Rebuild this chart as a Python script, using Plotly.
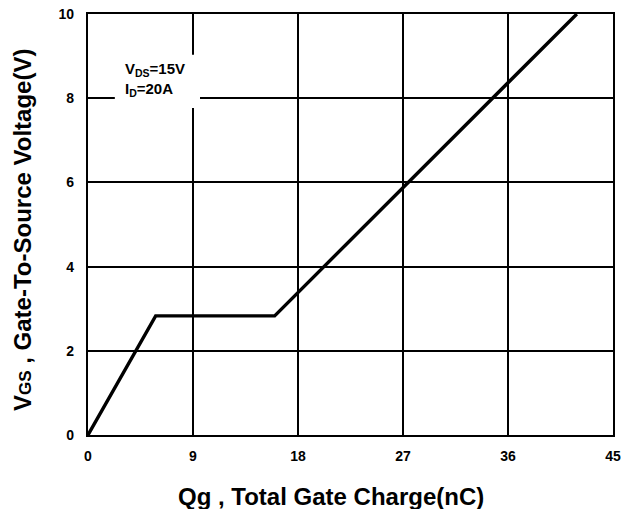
import plotly.graph_objects as go

# Data
qg_nc = [0, 5.8, 16.0, 41.9]
vgs_v = [0, 2.83, 2.83, 10.0]
x_ticks = [0, 9, 18, 27, 36, 45]
y_ticks = [0, 2, 4, 6, 8, 10]

FONT = "Liberation Sans, Arial"

fig = go.Figure()
fig.add_trace(go.Scatter(x=qg_nc, y=vgs_v, mode="lines",
                         line=dict(color="black", width=3.4), showlegend=False))

fig.add_shape(type="rect", xref="x", yref="y", x0=2.3, x1=9.6, y0=7.77, y1=9.03,
              fillcolor="white", line=dict(width=0), layer="above")
fig.add_annotation(x=3.0, y=8.44, xref="x", yref="y", xanchor="left", yanchor="middle",
                   text="V<sub>DS</sub>=15V<br>I<sub>D</sub>=20A", showarrow=False, align="left",
                   font=dict(family=FONT, size=15, color="black", weight="bold"))

# Axis titles
fig.add_annotation(x=0.463, y=-0.147, xref="paper", yref="paper", xanchor="center", yanchor="middle",
                   text="Qg , Total Gate Charge(nC)", showarrow=False,
                   font=dict(family=FONT, size=24, color="black", weight="bold"))
fig.add_annotation(x=-0.1238, y=0.487, xref="paper", yref="paper", xanchor="center", yanchor="middle",
                   textangle=-90,
                   text="V<span style='font-size:17px'>GS</span> , Gate-To-Source Voltage(V)", showarrow=False,
                   font=dict(family=FONT, size=24, color="black", weight="bold"))

axis_common = dict(showgrid=True, gridcolor="black", gridwidth=1.6, showline=True,
                   linecolor="black", linewidth=2.4, mirror=True, ticks="", zeroline=False,
                   automargin=False, ticklabeloverflow="allow",
                   tickfont=dict(family=FONT, size=14, color="black", weight="bold"))
fig.update_xaxes(range=[0, 45], tickvals=x_ticks, ticktext=[str(v) for v in x_ticks],
                 ticklabelstandoff=7, **axis_common)
fig.update_yaxes(range=[0, 10], tickvals=y_ticks, ticktext=[str(v) for v in y_ticks],
                 ticklabelstandoff=9, **axis_common)
fig.update_layout(width=622, height=509, margin=dict(l=88, r=9, t=14, b=74),
                  plot_bgcolor="white", paper_bgcolor="white")
fig.write_html("out.html", config={"displayModeBar": False},
               post_script="document.body.style.margin='0';document.body.style.overflow='hidden';")
